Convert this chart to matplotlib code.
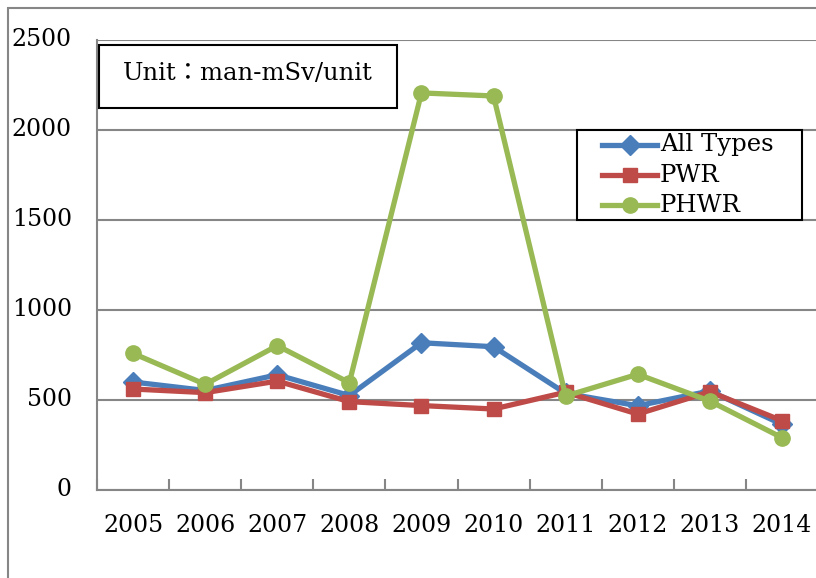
import matplotlib
matplotlib.use("Agg")
import matplotlib.pyplot as plt
from matplotlib.patches import Rectangle
from matplotlib.lines import Line2D

years = ["2005", "2006", "2007", "2008", "2009", "2010", "2011", "2012", "2013", "2014"]
all_types = [600, 553, 640, 525, 818, 796, 537, 468, 550, 365]
pwr = [561, 541, 605, 491, 469, 450, 543, 422, 546, 385]
phwr = [759, 587, 802, 596, 2206, 2189, 522, 643, 494, 291]
yticks = [0, 500, 1000, 1500, 2000, 2500]

plt.rcParams['font.family'] = ['DejaVu Serif', 'Noto Sans CJK JP']
FS = 17
BLUE, RED, GREEN = '#4A7EBB', '#BE4B48', '#98B954'

fig = plt.figure(figsize=(8.16, 5.78), dpi=100)
W, H = 816, 578
# outer chart border
fig.patches.append(Rectangle((8 / W, -0.1), 1.1, 1 - 8 / H + 0.1, transform=fig.transFigure,
                             fill=False, edgecolor='#868686', linewidth=1.5))

ax = fig.add_axes([97 / W, 1 - 490 / H, (818 - 97) / W, (490 - 40) / H])
x = list(range(len(years)))

series = [("All Types", all_types, BLUE, 'D', 10.5),
          ("PWR", pwr, RED, 's', 10),
          ("PHWR", phwr, GREEN, 'o', 11)]
for z, (name, vals, col, mk, ms) in enumerate(series):
    ax.plot(x, vals, color=col, lw=3.8, marker=mk, ms=ms, label=name, zorder=3 + z)

ax.set_xlim(-0.5, len(years) - 0.5)
ax.set_ylim(0, 2500)
ax.set_yticks(yticks)
ax.set_yticklabels([])
ax.yaxis.grid(True, color='#868686', lw=1.5)
ax.set_axisbelow(True)
ax.tick_params(axis='y', length=0)
for v in yticks:
    ax.text((72 - 97) / (818 - 97), v, str(v), transform=ax.get_yaxis_transform(),
            ha='right', va='center', fontsize=FS)

ax.set_xticks([i - 0.5 for i in range(len(years) + 1)])
ax.set_xticklabels([])
ax.set_xticks(x, minor=True)
ax.set_xticklabels(years, minor=True, fontsize=FS)
ax.tick_params(axis='x', which='major', direction='in', length=8, color='#868686', width=1.5)
ax.tick_params(axis='x', which='minor', length=0, pad=17)

for s in ['top', 'right']:
    ax.spines[s].set_visible(False)
for s in ['left', 'bottom']:
    ax.spines[s].set_color('#868686')
    ax.spines[s].set_linewidth(1.5)

# unit box
fig.patches.append(Rectangle((99 / W, 1 - 108 / H), (397 - 99) / W, (108 - 45) / H,
                             transform=fig.transFigure, fill=True, facecolor='white',
                             edgecolor='black', linewidth=1.5, zorder=10))
fig.text(248 / W, 1 - 73 / H, 'Unit：man-mSv/unit', ha='center', va='center',
         fontsize=17.5, zorder=11)

# legend box (manual)
fig.patches.append(Rectangle((577 / W, 1 - 220 / H), (802 - 577) / W, (220 - 130) / H,
                             transform=fig.transFigure, fill=True, facecolor='white',
                             edgecolor='black', linewidth=1.5, zorder=10))
for i, (name, vals, col, mk, ms) in enumerate(series):
    yy = 1 - (145 + 30 * i) / H
    fig.lines.append(Line2D([602 / W, 657 / W], [yy, yy], transform=fig.transFigure,
                            color=col, lw=3.8, marker=None, zorder=11))
    fig.lines.append(Line2D([629.5 / W], [yy], transform=fig.transFigure,
                            color=col, marker=mk, ms=ms, lw=0, zorder=12))
    fig.text(660 / W, yy, name, ha='left', va='center', fontsize=17.5, zorder=12)

fig.savefig('out.png', dpi=100)
